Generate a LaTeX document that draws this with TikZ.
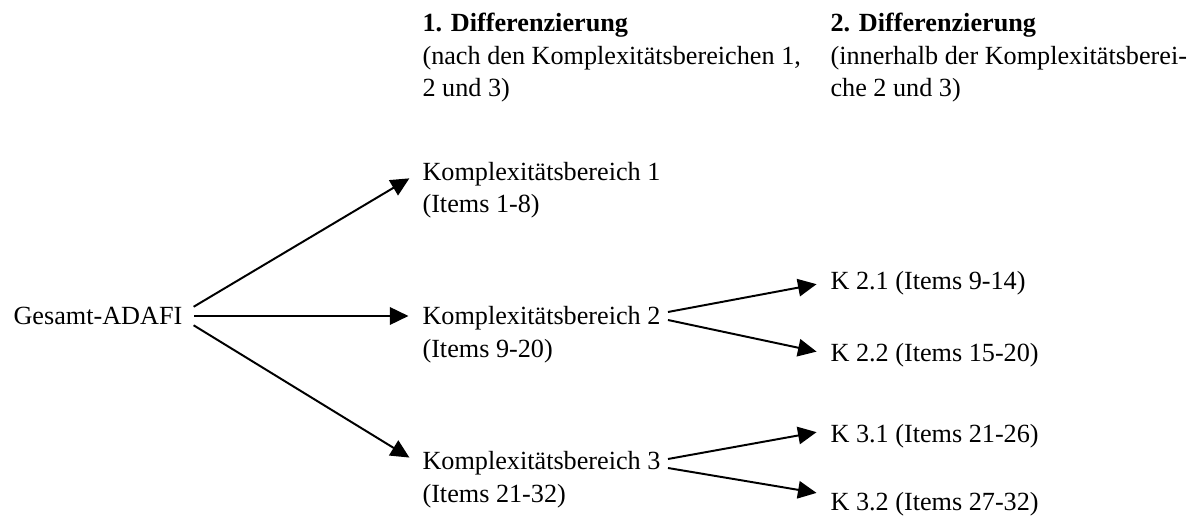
\documentclass[tikz,border=0pt]{standalone}
\usepackage{fontspec}
\setmainfont{Liberation Serif}
\usetikzlibrary{arrows.meta}

\begin{document}
\begin{tikzpicture}[x=0.458pt,y=-0.458pt,->,>={Triangle[length=8.5pt,width=8pt]},
    line width=0.9pt,shorten >=3pt,
    text node/.style={anchor=base west,inner xsep=3pt,inner ysep=0pt,
      text height=8pt,text depth=2.5pt,font=\fontsize{12}{14.9}\selectfont},
    head node/.style={anchor=base west,inner xsep=3pt,inner ysep=0pt,
      align=left,font=\fontsize{12}{14.9}\selectfont}]

  \useasboundingbox (0,0) rectangle (1200,516);

  % headings of the two levels (placed by their last line)
  \node[head node] (diff1) at (415,97) {\textbf{1. Differenzierung}\\(nach den Komplexitätsbereichen 1,\\2 und 3)};
  \node[head node] (diff2) at (823,97) {\textbf{2. Differenzierung}\\(innerhalb der Komplexitätsberei-\\che 2 und 3)};

  % draw the nodes of the tree
  \node[text node] (gesamt) at (6,325) {Gesamt-ADAFI};
  \node[text node] (kb1) at (415,181) {Komplexitätsbereich 1};
  \node[text node] (kb1_items) at (415,213) {(Items 1-8)};
  \node[text node] (kb2) at (415,324) {Komplexitätsbereich 2};
  \node[text node] (kb2_items) at (415,357) {(Items 9-20)};
  \node[text node] (kb3) at (415,469) {Komplexitätsbereich 3};
  \node[text node] (kb3_items) at (415,502) {(Items 21-32)};
  \node[text node] (k21) at (823,290) {K 2.1 (Items 9-14)};
  \node[text node] (k22) at (823,361) {K 2.2 (Items 15-20)};
  \node[text node] (k31) at (823,442) {K 3.1 (Items 21-26)};
  \node[text node] (k32) at (823,510) {K 3.2 (Items 27-32)};

  % connectors between the nodes
  \draw[shorten <=2pt] ([shift={(0,-10)}]gesamt.east) -- ([shift={(0,0)}]kb1.west);
  \draw[shorten <=2pt] ([shift={(0,-3)}]gesamt.east) -- ([shift={(0,-2)}]kb2.west);
  \draw[shorten <=2pt] ([shift={(0,4)}]gesamt.east) -- ([shift={(0,-2)}]kb3.west);
  \draw ([shift={(0,-6)}]kb2.east) -- ([shift={(0,-1)}]k21.west);
  \draw ([shift={(0,2)}]kb2.east) -- ([shift={(0,-2)}]k22.west);
  \draw ([shift={(0,-4)}]kb3.east) -- ([shift={(0,-5)}]k31.west);
  \draw ([shift={(0,5)}]kb3.east) -- ([shift={(0,-10)}]k32.west);

\end{tikzpicture}
\end{document}
